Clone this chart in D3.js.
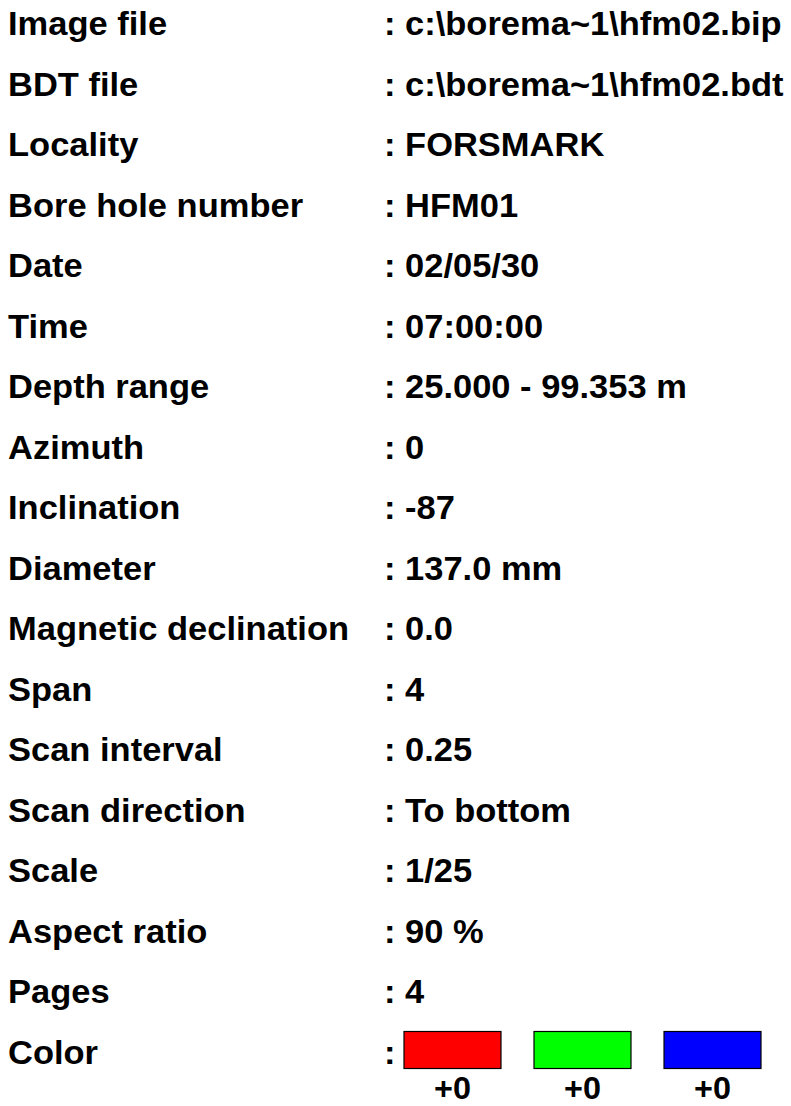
<!DOCTYPE html>
<html>
<head>
<meta charset="utf-8">
<script src="https://cdn.jsdelivr.net/npm/d3@7"></script>
<style>
  body { margin: 0; background: #fff; }
  text { font-family: "Liberation Sans", Arial, sans-serif; font-weight: bold; fill: #000; }
</style>
</head>
<body>
<div id="chart"></div>
<script>
// Size of the page
const width = 791;
const height = 1106;
const stretch = 1.045; // text in the picture is a bit wider than Liberation Sans

// Header fields
const labels = [
  "Image file", "BDT file", "Locality", "Bore hole number", "Date", "Time",
  "Depth range", "Azimuth", "Inclination", "Diameter", "Magnetic declination",
  "Span", "Scan interval", "Scan direction", "Scale", "Aspect ratio", "Pages", "Color"
];
const values = [
  "c:\\borema~1\\hfm02.bip", "c:\\borema~1\\hfm02.bdt", "FORSMARK", "HFM01",
  "02/05/30", "07:00:00", "25.000 - 99.353 m", "0", "-87", "137.0 mm", "0.0",
  "4", "0.25", "To bottom", "1/25", "90 %", "4", ""
];

// colour channels and their offsets
const channels = ["R", "G", "B"];
const channelColors = ["#ff0000", "#00ff00", "#0000ff"];
const offsets = ["+0", "+0", "+0"];

const svg = d3.select("#chart")
  .append("svg")
  .attr("width", width)
  .attr("height", height);

// one row per field, y is the text baseline
const yScale = d3.scalePoint()
  .domain(labels)
  .range([35, 1063.5]);

// the colour boxes sit after the colon on the last row
const xScale = d3.scaleBand()
  .domain(channels)
  .range([404, 761])
  .paddingInner(0.254)
  .paddingOuter(0);

const colorScale = d3.scaleOrdinal()
  .domain(channels)
  .range(channelColors);

// labels
svg.selectAll(".label")
  .data(labels)
  .enter()
  .append("text")
  .attr("class", "label")
  .attr("transform", d => `translate(8,${yScale(d)}) scale(${stretch},1)`)
  .attr("font-size", "33px")
  .text(d => d);

// values, each starting with the colon
svg.selectAll(".value")
  .data(labels)
  .enter()
  .append("text")
  .attr("class", "value")
  .attr("transform", d => `translate(384,${yScale(d)}) scale(${stretch},1)`)
  .attr("font-size", "33px")
  .text((d, i) => values[i] ? ": " + values[i] : ":");

// colour boxes
const lastRow = yScale("Color");
svg.selectAll(".swatch")
  .data(channels)
  .enter()
  .append("rect")
  .attr("class", "swatch")
  .attr("x", d => xScale(d))
  .attr("y", lastRow - 32)
  .attr("width", xScale.bandwidth())
  .attr("height", 37)
  .attr("fill", d => colorScale(d))
  .attr("stroke", "#000")
  .attr("stroke-width", 1.2);

// offsets under the boxes (kept just inside the bottom edge)
svg.selectAll(".offset")
  .data(channels)
  .enter()
  .append("text")
  .attr("class", "offset")
  .attr("transform", d => `translate(${xScale(d) + xScale.bandwidth() / 2},${lastRow + 35}) scale(${stretch},1)`)
  .attr("text-anchor", "middle")
  .attr("font-size", "31px")
  .text((d, i) => offsets[i]);
</script>
</body>
</html>
